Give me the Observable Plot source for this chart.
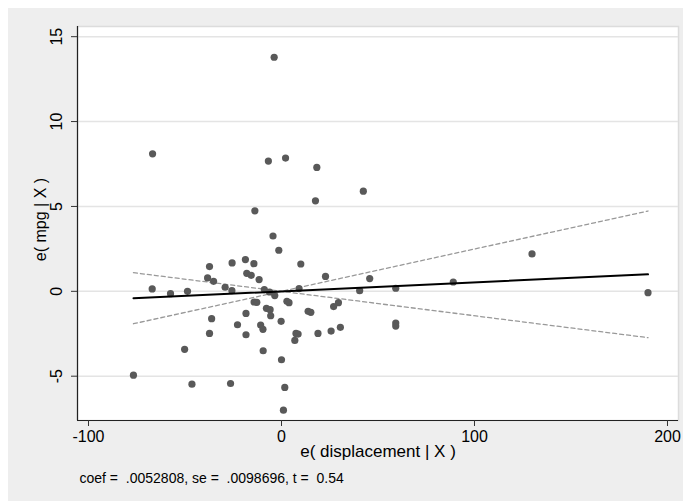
<!DOCTYPE html>
<html>
<head>
<meta charset="utf-8">
<script src="https://cdn.jsdelivr.net/npm/d3@7"></script>
<script src="https://cdn.jsdelivr.net/npm/@observablehq/plot@0.6"></script>
<style>
  html, body { margin: 0; padding: 0; background: #ffffff; }
</style>
</head>
<body>
<div id="chart"></div>
<script>
// Residual of displacement (x) and residual of mpg (y)
const residX = [
  -3.8, -66.8, -6.8, 2.1, 18.3, 42.4, 17.6, -13.8,
  -4.4, -1.4, -37.3, -25.6, -18.7, -14.3, 10.0, -18.0, -15.7, -11.6,
  -38.3, -35.2, 22.8, 45.7, -67.0, -57.5, -48.7, -29.2, -25.7, -8.9,
  -6.2, -3.5, 9.1, 40.5, -14.2, -12.8, 2.8, 3.9, -7.8, -5.9, -5.6,
  -18.4, -36.2, -22.8, -10.8, -9.6, -0.2, 13.8, 15.2, 27.0, 29.5,
  -37.3, -18.4, 7.5, 8.6, 6.9, 18.9, 25.7, 30.5, -50.2, -9.5, 0.0,
  -76.7, -46.4, -26.4, 1.7, 1.0,
  129.8, 89.0, 59.2, 59.2, 59.2, 189.9
];
const residY = [
  13.79, 8.10, 7.67, 7.85, 7.30, 5.90, 5.33, 4.74,
  3.26, 2.42, 1.46, 1.67, 1.87, 1.63, 1.61, 1.06, 0.94, 0.69,
  0.79, 0.59, 0.88, 0.75, 0.14, -0.14, 0.00, 0.24, 0.04, 0.10,
  -0.04, -0.25, 0.16, 0.04, -0.63, -0.65, -0.59, -0.67, -1.00, -1.08, -1.44,
  -1.30, -1.61, -1.97, -1.99, -2.24, -1.77, -1.18, -1.24, -0.90, -0.67,
  -2.48, -2.56, -2.48, -2.52, -2.89, -2.48, -2.34, -2.12, -3.42, -3.50, -4.03,
  -4.94, -5.47, -5.43, -5.66, -7.00,
  2.20, 0.55, 0.18, -1.87, -2.05, -0.08
];

// Fitted line and its confidence lines (end points)
const fitX = [-76.7, 189.9];
const fitY = [-0.41, 1.00];
const ciUpperY = [-1.91, 4.73];
const ciLowerY = [1.10, -2.73];

// Axis ticks and texts
const xTicks = [-100, 0, 100, 200];
const xTickLabels = ["-100", "0", "100", "200"];
const yTicks = [-5, 0, 5, 10, 15];
const yTickLabels = ["-5", "0", "5", "10", "15"];
const xTitle = "e( displacement | X )";
const yTitle = "e( mpg | X )";
const note = "coef =  .0052808, se =  .0098696, t =  0.54";

const xDomain = [-105.7, 205.7];
const yDomain = [-7.61, 15.6];

const points = residX.map((x, i) => ({x, y: residY[i]}));
const fit = fitX.map((x, i) => ({x, y: fitY[i]}));
const ciUp = fitX.map((x, i) => ({x, y: ciUpperY[i]}));
const ciLo = fitX.map((x, i) => ({x, y: ciLowerY[i]}));

const chart = Plot.plot({
  width: 683,
  height: 501,
  marginLeft: 77,
  marginRight: 5,
  marginTop: 26,
  marginBottom: 81,
  style: {fontFamily: "'Liberation Sans', Arial, Helvetica, sans-serif", color: "#000"},
  x: {domain: xDomain, label: null},
  y: {domain: yDomain, label: null},
  marks: [
    Plot.frame({fill: "#ffffff", stroke: "#dcdcdc", strokeWidth: 1.5}),
    Plot.gridY(yTicks, {stroke: "#e4e4e4", strokeOpacity: 1, strokeWidth: 1.5}),
    Plot.line(ciUp, {x: "x", y: "y", stroke: "#999999", strokeWidth: 1.3, strokeDasharray: "4,3"}),
    Plot.line(ciLo, {x: "x", y: "y", stroke: "#999999", strokeWidth: 1.3, strokeDasharray: "4,3"}),
    Plot.dot(points, {x: "x", y: "y", r: 3.6, fill: "#595959", stroke: "none"}),
    Plot.line(fit, {x: "x", y: "y", stroke: "#000000", strokeWidth: 2}),
    Plot.ruleX([xDomain[0]], {stroke: "#222", strokeWidth: 1.2}),
    Plot.ruleY([yDomain[0]], {stroke: "#222", strokeWidth: 1.2}),
    Plot.axisX(xTicks, {tickSize: 6, tickPadding: 4, fontSize: 16, tickFormat: (d) => xTickLabels[xTicks.indexOf(d)], stroke: "#333", label: null}),
    Plot.axisY(yTicks, {tickSize: 6, tickFormat: () => "", stroke: "#333", label: null}),
    Plot.text(yTicks, {y: (d) => d, text: (d, i) => yTickLabels[i], frameAnchor: "left", textAnchor: "middle", dx: -21, rotate: -90, fontSize: 16, fill: "#000"}),
    Plot.text([xTitle], {frameAnchor: "bottom", textAnchor: "middle", dy: 36, fontSize: 17, fill: "#000"}),
    Plot.text([yTitle], {frameAnchor: "left", textAnchor: "middle", dx: -37, dy: -4, rotate: -90, fontSize: 16, fill: "#000"}),
    Plot.text([note], {frameAnchor: "bottom-left", textAnchor: "start", dx: 2, dy: 62, fontSize: 14, fill: "#000"})
  ]
});
chart.style.background = "linear-gradient(#eeeeee, #eeeeee) 8px 8px / 100% 100% no-repeat, #ffffff";
chart.style.display = "block";
document.getElementById("chart").appendChild(chart);
</script>
</body>
</html>
